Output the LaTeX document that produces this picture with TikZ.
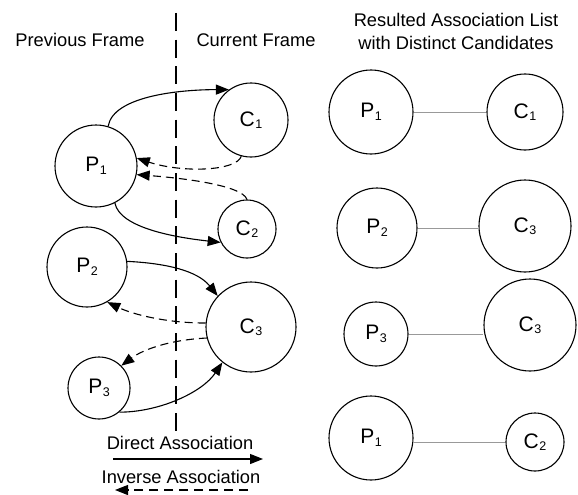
\documentclass[tikz,border=0pt]{standalone}
\usepackage{fontspec}
\setmainfont{Liberation Sans}
\usetikzlibrary{arrows.meta}
\newcommand\circlab[2]{#1\kern0.5pt\raisebox{-2.5pt}{\fontsize{12.5}{13}\selectfont #2}}
\begin{document}
\begin{tikzpicture}[x=1pt,y=-1pt,
  blob/.style={circle,draw,line width=1.1pt,inner sep=0pt,font=\fontsize{21}{23}\selectfont},
  lbl/.style={font=\fontsize{18.3}{21}\selectfont,inner sep=0pt},
  direct/.style={line width=1.1pt,-{Triangle[length=13pt,width=10pt]}},
  inverse/.style={line width=1.1pt,dash pattern=on 8pt off 5pt,-{Triangle[length=13pt,width=10pt]}},
  link/.style={line width=0.9pt,draw=black!40}]
\useasboundingbox (0,0) rectangle (578,495);
% frame divider
\draw[line width=1.8pt,dash pattern=on 18pt off 8.67pt] (176,13) coordinate (vt) -- (176,431) coordinate (vb);
% titles
\node[lbl] (tprev) at (80,40) {Previous Frame};
\node[lbl] (tcur) at (256,40) {Current Frame};
\node[lbl] (tres1) at (456,20) {Resulted Association List};
\node[lbl] (tres2) at (456,43) {with Distinct Candidates};
% left circles
\node[blob,minimum size=74pt] (C1) at (251,120) {\circlab{C}{1}};
\node[blob,minimum size=82pt] (P1) at (96,166) {\circlab{P}{1}};
\node[blob,minimum size=58pt] (C2) at (247,229) {\circlab{C}{2}};
\node[blob,minimum size=80pt] (P2) at (87,267) {\circlab{P}{2}};
\node[blob,minimum size=90pt] (C3) at (251,327) {\circlab{C}{3}};
\node[blob,minimum size=62pt] (P3) at (99,388) {\circlab{P}{3}};
% associations
\draw[direct] (P1.73) .. controls +(5,-30) and +(-50,0) .. (C1.126);
\draw[inverse] (C1.255) .. controls +(-5,15) and +(45,15) .. (P1.11);
\draw[inverse] (C2.90) .. controls +(-5,-15) and +(40,3) .. (P1.348);
\draw[direct] (P1.297) .. controls +(5,25) and +(-45,-5) .. (C2.207);
\draw[direct] (P2.8) .. controls +(40,2) and +(-20,-25) .. (C3.137);
\draw[inverse] (C3.175) .. controls +(-40,0) and +(25,12) .. (P2.300);
\draw[inverse] (C3.194) .. controls +(-40,2) and +(20,-15) .. (P3.45);
\draw[direct] (P3.310) .. controls +(40,0) and +(-20,30) .. (C3.231);
% legend
\node[lbl] (ldir) at (180,443) {Direct Association};
\coordinate (d1) at (113,459);
\coordinate (d2) at (263,459);
\draw[direct] (d1) -- (d2);
\node[lbl] (linv) at (181,477) {Inverse Association};
\coordinate (i1) at (248,490);
\coordinate (i2) at (115,490);
\draw[inverse,dash pattern=on 9pt off 6pt] (i1) -- (i2);
% right list
\node[blob,minimum size=84pt] (rP1) at (371,112) {\circlab{P}{1}};
\node[blob,minimum size=76pt] (rC1) at (525,112) {\circlab{C}{1}};
\node[blob,minimum size=80pt] (rP2) at (377,228) {\circlab{P}{2}};
\node[blob,minimum size=92pt] (rC3a) at (525,226) {\circlab{C}{3}};
\node[blob,minimum size=64pt] (rP3) at (376,334) {\circlab{P}{3}};
\node[blob,minimum size=92pt] (rC3b) at (530,325) {\circlab{C}{3}};
\node[blob,minimum size=84pt] (rP1b) at (371,438) {\circlab{P}{1}};
\node[blob,minimum size=58pt] (rC2) at (535,442) {\circlab{C}{2}};
\draw[link] (rP1.east) -- (rC1.west);
\draw[link] (rP2.east) -- (rP2.east -| rC3a.west);
\draw[link] (rP3.east) -- (rP3.east -| rC3b.west);
\draw[link] (rP1b.east |- rC2.west) -- (rC2.west);
\end{tikzpicture}
\end{document}
